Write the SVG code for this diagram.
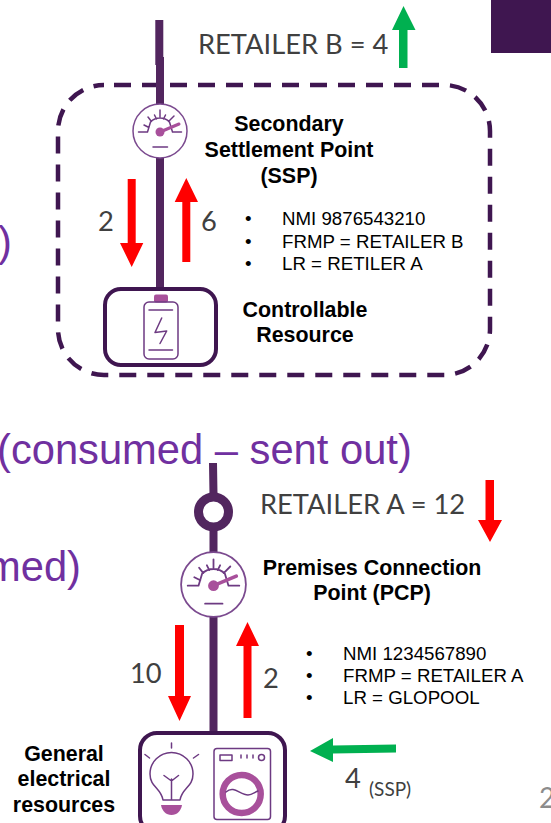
<svg xmlns="http://www.w3.org/2000/svg" width="551" height="823" viewBox="0 0 551 823">
<style>
.big{font-family:"Liberation Sans",Arial,sans-serif;font-size:41.700px;fill:#7030a0}
.num{font-family:Lato,"Open Sans",sans-serif;font-size:27.300px;fill:#404040}
.lab{font-family:"Liberation Sans",Arial,sans-serif;font-size:21.400px;font-weight:700;fill:#000;text-anchor:middle}
.lst{font-family:"Liberation Sans",Arial,sans-serif;font-size:18.700px;fill:#000}
.wire{fill:none;stroke:#52265f}
.box{fill:#fff;stroke:#3f1650;stroke-width:4}
.red{fill:#ff0000}
.grn{fill:#00b050}
.ic{fill:none;stroke:#6d3a82;stroke-width:1.500;stroke-linecap:round;stroke-linejoin:round}
.ac{fill:#a8509b}
</style>
<defs>
<g id="meter">
<circle r="27" fill="#fff" stroke="#7b4a8f" stroke-width="1.500"/>
<path class="ic" d="M-21.500 1H-12.500L-9.500-9A13.500 13.500 0 0 1 9.500-9L12.500 1H21.500M-16-6L-11-3.500M-12-14L-8.500-9.500M-5.500-16L-3.500-12M0-21V-14M5.500-16L3.500-12M14-15L8.500-9.500M-7 16H7.500"/>
<circle class="ac" cy="1" r="4.500"/>
<path d="M0 1L19-7" fill="none" stroke="#a8509b" stroke-width="3" stroke-linecap="round"/>
</g>
</defs>

<rect id="corner-block" x="491" y="0" width="60" height="53" fill="#3f1650"/>
<text class="big" x="-2" y="256" id="paren">)</text>
<text class="big" x="-3" y="464" id="formula-a">(consumed – sent out)</text>
<text class="big" x="-14" y="581" id="formula-b">med)</text>

<g id="connectors">
<rect x="58" y="85" width="432" height="290" rx="46" fill="none" stroke="#3f1650" stroke-width="4.500" stroke-dasharray="17 11" stroke-dashoffset="-10"/>
<path class="wire" stroke-width="8" d="M159.300 20V65M160 57V290"/>
<path class="wire" stroke-width="8" d="M213 463L213.500 495M213.500 528V735"/>
<path class="red" d="M127.700 179H135.700V243H143.300L131.700 267L120 243H127.700Z"/>
<path class="red" d="M182.300 262V202H174.700L186.300 178L198 202H190.300V262Z"/>
<path class="grn" d="M399 68V30H392L403.500 6L415.500 30H407.500V68Z"/>
<path class="red" d="M175 625H184V696H191L179.500 721L168 696H175Z"/>
<path class="red" d="M243.500 718V646H236L247.500 622L259 646H251.500V718Z"/>
<path class="red" d="M485.500 480H494V520H502L490 542L478 520H485.500Z"/>
<path class="grn" d="M396 744.500V752.500L333 753.500V762L310 751L333 738V745.500Z"/>
</g>

<g id="ssp-meter" transform="translate(160 131)"><use href="#meter"/></g>
<g id="pcp-meter" transform="translate(213.500 584.500) scale(1.200)"><use href="#meter"/></g>

<g id="connection-point">
<circle cx="213.500" cy="512" r="15" fill="#fff" stroke="#52265f" stroke-width="9"/>
</g>

<g id="controllable-resource">
<rect class="box" x="105" y="289" width="111" height="76" rx="16"/>
<rect x="154" y="294.500" width="14" height="8" rx="2" class="ac"/>
<rect class="ic" x="144" y="302" width="34" height="57" rx="5"/>
<path class="ic" d="M149 310H172.500M149 350H172.500M161.700 318L155 332.500L166.700 331L160 343.500"/>
</g>

<g id="general-resources">
<rect class="box" x="140" y="733" width="145" height="100" rx="17"/>
<path class="ic" d="M171.500 743V748M145 754.500L149.500 758M198.500 754.500L193.500 758M163 800C161 788 150 787 150 774A21.500 21.500 0 0 1 193 774C193 787 182 788 180 800M163 800H180M171.500 800V779M164 775.500L171.500 781L178.500 775.500"/>
<path class="ac" d="M161 805H182C181 811 177 815 171.500 815C166 815 162 811 161 805Z"/>
<rect class="ic" x="214" y="748.500" width="56.500" height="71" rx="3"/>
<rect class="ic" x="220" y="755" width="12" height="5.500"/>
<path class="ic" d="M241 755V758M247 755V758M253 755V758"/>
<circle class="ic" cx="261.500" cy="757.500" r="3"/>
<circle cx="241.700" cy="794" r="19" fill="none" stroke="#a8509b" stroke-width="6.500"/>
<path class="ic" d="M226 792C234 785 240 795 248 795C252 795 255 792 258 791"/>
</g>

<g id="labels">
<text class="num" x="198" y="54">RETAILER B = 4</text>
<text class="lab"><tspan x="289" y="131">Secondary</tspan><tspan x="289" y="157">Settlement Point</tspan><tspan x="289" y="183">(SSP)</tspan></text>
<text class="num" x="98" y="231">2</text>
<text class="num" x="201" y="231">6</text>
<text class="lst"><tspan x="245" y="225">•</tspan><tspan x="282" y="225">NMI 9876543210</tspan><tspan x="245" y="248">•</tspan><tspan x="282" y="248">FRMP = RETAILER B</tspan><tspan x="245" y="270">•</tspan><tspan x="282" y="270">LR = RETILER A</tspan></text>
<text class="lab"><tspan x="305" y="317">Controllable</tspan><tspan x="305" y="342">Resource</tspan></text>
<text class="num" x="260" y="514">RETAILER A = 12</text>
<text class="lab"><tspan x="372" y="575">Premises Connection</tspan><tspan x="372" y="600">Point (PCP)</tspan></text>
<text class="num" x="130" y="683">10</text>
<text class="num" x="263" y="688">2</text>
<text class="lst"><tspan x="306" y="660">•</tspan><tspan x="343" y="660">NMI 1234567890</tspan><tspan x="306" y="682">•</tspan><tspan x="343" y="682">FRMP = RETAILER A</tspan><tspan x="306" y="704">•</tspan><tspan x="343" y="704">LR = GLOPOOL</tspan></text>
<text class="lab"><tspan x="64" y="761">General</tspan><tspan x="64" y="786">electrical</tspan><tspan x="64" y="812">resources</tspan></text>
<text class="num" x="345" y="788">4</text>
<text x="369" y="796" style="font-family:Lato,'Open Sans',sans-serif;font-size:19px;fill:#404040">(SSP)</text>
<text x="539" y="808" style="font-family:Lato,'Open Sans',sans-serif;font-size:28px;fill:#8c8c8c">2</text>
</g>
</svg>
